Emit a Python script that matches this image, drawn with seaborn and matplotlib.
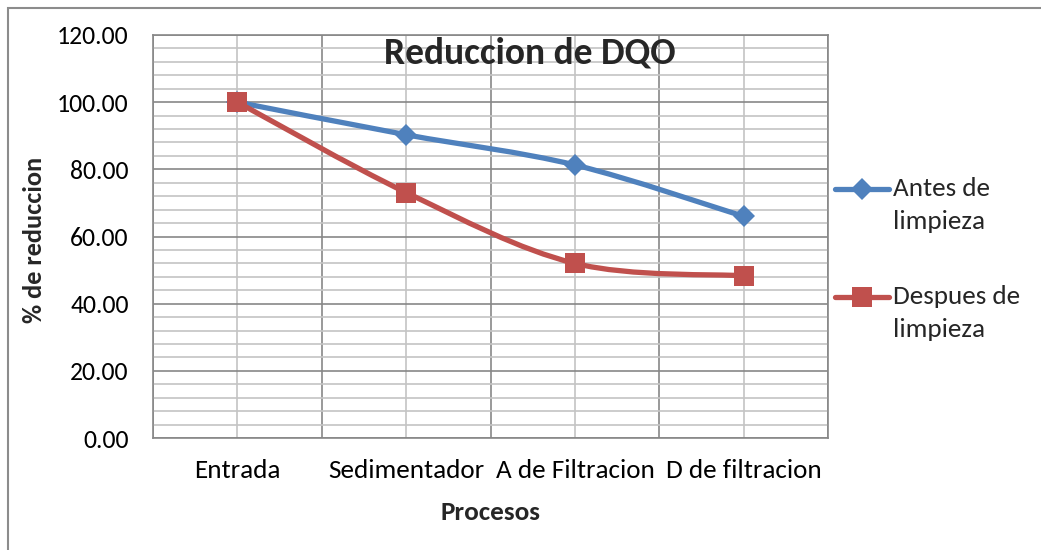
import matplotlib
matplotlib.use('Agg')
import matplotlib.pyplot as plt
from matplotlib.path import Path
from matplotlib.patches import PathPatch, Rectangle
from matplotlib.lines import Line2D
import seaborn as sns
import pandas as pd
import numpy as np

procesos = ['Entrada', 'Sedimentador', 'A de Filtracion', 'D de filtracion']
antes = [100.0, 90.3, 81.3, 66.0]
despues = [100.0, 73.1, 52.0, 48.3]
series = ['Antes de\nlimpieza', 'Despues de\nlimpieza']
colores = ['#4F81BD', '#C0504D']

sns.set_style('white')
plt.rcParams['font.family'] = ['Carlito', 'Lato', 'DejaVu Sans']

df = pd.DataFrame({
    'pos': list(range(len(procesos))) * 2,
    'valor': antes + despues,
    'serie': [series[0]] * len(procesos) + [series[1]] * len(procesos),
})

fig = plt.figure(figsize=(10.41, 5.5), dpi=100)
ax = fig.add_axes([153 / 1041, 1 - 438 / 550, (828 - 153) / 1041, (438 - 35) / 550])


def smooth_path(xs, ys):
    # curva suavizada tipo Excel (Catmull-Rom en forma Bezier)
    pts = np.column_stack([xs, ys]).astype(float)
    n = len(pts)
    verts = [pts[0]]
    codes = [Path.MOVETO]
    for i in range(n - 1):
        p0 = pts[max(i - 1, 0)]
        p1 = pts[i]
        p2 = pts[i + 1]
        p3 = pts[min(i + 2, n - 1)]
        verts += [p1 + (p2 - p0) / 6, p2 - (p3 - p1) / 6, p2]
        codes += [Path.CURVE4] * 3
    return Path(verts, codes)


marcadores = ['D', 's']
tamanos = [11, 14]
for serie, color, mk, ms in zip(series, colores, marcadores, tamanos):
    sub = df[df['serie'] == serie]
    ax.add_patch(PathPatch(smooth_path(sub['pos'], sub['valor']), fill=False,
                           edgecolor=color, lw=3.8, zorder=3, capstyle='round'))
    sns.lineplot(data=sub, x='pos', y='valor', ax=ax, color=color, marker=mk,
                 markersize=ms, markeredgewidth=0, lw=0, zorder=4, legend=False)

ax.set_xlim(-0.5, len(procesos) - 0.5)
ax.set_ylim(0, 120)

# ejes y rejilla
ax.set_yticks(np.arange(0, 121, 20))
ax.set_yticklabels([f'{v:.2f}' for v in np.arange(0, 121, 20)])
ax.set_yticks(np.arange(0, 121, 4), minor=True)
ax.set_xticks(np.arange(-0.5, len(procesos), 1.0))
ax.set_xticklabels([''] * (len(procesos) + 1))
ax.set_xticks(range(len(procesos)), minor=True)
ax.set_xticklabels(procesos, minor=True)

ax.grid(which='major', color='#878787', lw=1.2, zorder=0)
ax.grid(which='minor', color='#C4C4C4', lw=1.2, zorder=0)
ax.set_axisbelow(True)

ax.tick_params(axis='both', which='major', length=4.5, width=1.2, color='#878787',
               labelsize=18.5, labelcolor='black')
ax.tick_params(axis='y', which='major', pad=13)
ax.tick_params(axis='x', which='minor', length=0, labelsize=19.5, pad=15, labelcolor='black')
ax.tick_params(axis='y', which='minor', length=0)
for s in ax.spines.values():
    s.set_color('#878787')
    s.set_linewidth(1.2)

ax.set_xlabel('')
ax.set_ylabel('')
fig.text(35 / 1041, 1 - 240 / 550, '% de reduccion', rotation=90, ha='center', va='center',
         fontsize=19, fontweight='bold')
fig.text(491 / 1041, 1 - 513 / 550, 'Procesos', ha='center', va='center',
         fontsize=19.5, fontweight='bold')
fig.text(530 / 1041, 1 - 53 / 550, 'Reduccion de DQO', ha='center', va='center',
         fontsize=27, fontweight='bold')

# leyenda manual
ly = [189, 297]
for serie, color, mk, ms, y in zip(series, colores, marcadores, tamanos, ly):
    fy = 1 - y / 550
    fig.add_artist(Line2D([835 / 1041, 889 / 1041], [fy, fy], color=color, lw=3.8,
                          marker=None, solid_capstyle='round'))
    fig.add_artist(Line2D([862 / 1041], [fy], color=color, marker=mk, markersize=ms,
                          markeredgewidth=0, lw=0))
    fig.text(893 / 1041, 1 - (y - 12) / 550, serie, ha='left', va='top', fontsize=19.5,
             linespacing=1.55)

fig.add_artist(Rectangle((8 / 1041, -0.1), 1.2, 1 - 8 / 550 + 0.1, transform=fig.transFigure,
                         fill=False, edgecolor='#8C8C8C', lw=1.5))

fig.savefig('out.png', dpi=100, facecolor='white')
